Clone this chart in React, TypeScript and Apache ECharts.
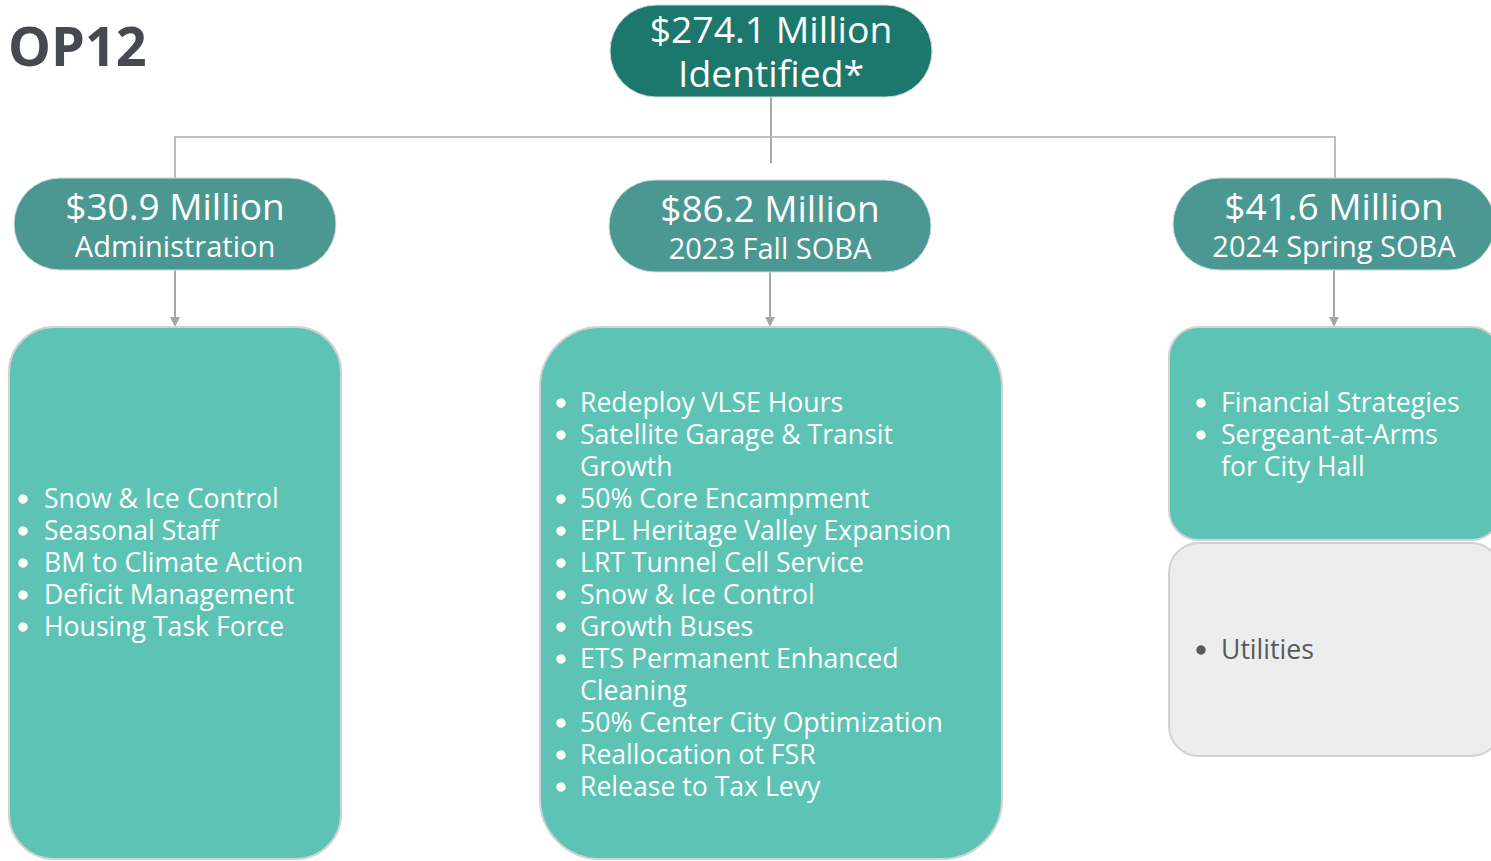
import React, { useEffect, useRef } from 'react';
import * as echarts from 'echarts';

// ---- Data ----
const title = 'OP12';
const totalAmount = '$274.1 Million';
const totalLabel = 'Identified*';
const branchAmounts = ['$30.9 Million', '$86.2 Million', '$41.6 Million'];
const branchLabels = ['Administration', '2023 Fall SOBA', '2024 Spring SOBA'];
const adminItems = [
  'Snow & Ice Control',
  'Seasonal Staff',
  'BM to Climate Action',
  'Deficit Management',
  'Housing Task Force',
];
const fallItems = [
  'Redeploy VLSE Hours',
  'Satellite Garage & Transit\nGrowth',
  '50% Core Encampment',
  'EPL Heritage Valley Expansion',
  'LRT Tunnel Cell Service',
  'Snow & Ice Control',
  'Growth Buses',
  'ETS Permanent Enhanced\nCleaning',
  '50% Center City Optimization',
  'Reallocation ot FSR',
  'Release to Tax Levy',
];
const springItems = ['Financial Strategies', 'Sergeant-at-Arms\nfor City Hall'];
const utilityItems = ['Utilities'];

// ---- Layout / style ----
const FONT = '"Open Sans", "Noto Sans", sans-serif';
const DARK = '#1c786c';
const MID = '#4a9891';
const LIGHT = '#5dc3b4';
const GREY_BOX = '#ededed';
const BORDER = '#d2d2d2';
const CONNECT = '#bfbfbf';
const ARROW = '#a6a6a6';

const branchNodes = [
  { x: 14, y: 178, w: 322, h: 92, cx: 175 },
  { x: 609, y: 180, w: 322, h: 92, cx: 770 },
  { x: 1173, y: 178, w: 322, h: 92, cx: 1334 },
];

function textEl(text: string, x: number, y: number, size: number, fill: string, align = 'center', weight = 'normal', lh?: number) {
  return {
    type: 'text',
    x,
    y,
    silent: true,
    style: {
      text,
      fill,
      font: `${weight} ${size}px ${FONT}`,
      lineHeight: lh ?? Math.round(size * 1.1),
      textAlign: align,
      textVerticalAlign: 'middle',
      align,
      verticalAlign: 'middle',
    },
  };
}

function listEls(items: string[], bulletX: number, textX: number, firstY: number, color: string) {
  const out: any[] = [];
  let y = firstY;
  items.forEach((item) => {
    const lines = item.split('\n');
    out.push({ type: 'circle', silent: true, shape: { cx: bulletX, cy: y + 1, r: 4.7 }, style: { fill: color } });
    lines.forEach((ln) => {
      out.push(textEl(ln, textX, y, 26.6, color, 'left', 'normal', 30));
      y += 32;
    });
  });
  return out;
}

function arrowEls(x: number, y1: number, y2: number) {
  return [
    { type: 'line', silent: true, shape: { x1: x, y1, x2: x, y2: y2 - 6 }, style: { stroke: ARROW, lineWidth: 2 } },
    { type: 'polygon', silent: true, shape: { points: [[x - 5, y2 - 10], [x + 5, y2 - 10], [x, y2]] }, style: { fill: ARROW } },
  ];
}

export default function App() {
  const ref = useRef<HTMLDivElement>(null);
  useEffect(() => {
    document.body.style.margin = '0';
    document.body.style.overflow = 'hidden';
    if (!ref.current) return;
    const chart = echarts.init(ref.current, null, { renderer: 'svg' });

    const elements: any[] = [];
    // connectors
    elements.push(
      { type: 'line', silent: true, shape: { x1: 771, y1: 97, x2: 771, y2: 163 }, style: { stroke: '#a8a8a8', lineWidth: 2 } },
      { type: 'line', silent: true, shape: { x1: 175, y1: 137, x2: 1335, y2: 137 }, style: { stroke: CONNECT, lineWidth: 2 } },
      { type: 'line', silent: true, shape: { x1: 175, y1: 136, x2: 175, y2: 180 }, style: { stroke: CONNECT, lineWidth: 2 } },
      { type: 'line', silent: true, shape: { x1: 1335, y1: 136, x2: 1335, y2: 180 }, style: { stroke: CONNECT, lineWidth: 2 } },
    );
    branchNodes.forEach((n) => {
      elements.push(...arrowEls(n.cx, n.y + n.h, 327));
    });

    // title
    elements.push(textEl(title, 8, 45, 54, '#464a50', 'left', 'bold', 56));

    // top node
    elements.push({
      type: 'rect', silent: true,
      shape: { x: 610, y: 5, width: 322, height: 92, r: 46 },
      style: { fill: DARK, stroke: '#cfdedb', lineWidth: 1 },
    });
    elements.push(textEl(totalAmount, 771, 28, 37.3, '#ffffff', 'center', 'normal', 40));
    elements.push(textEl(totalLabel, 771, 72, 37.3, '#ffffff', 'center', 'normal', 40));

    // branch nodes
    branchNodes.forEach((n, i) => {
      elements.push({
        type: 'rect', silent: true,
        shape: { x: n.x, y: n.y, width: n.w, height: n.h, r: 46 },
        style: { fill: MID, stroke: '#cfdedb', lineWidth: 1 },
      });
      elements.push(textEl(branchAmounts[i], n.cx, n.y + 27, 37, '#ffffff', 'center', 'normal', 38));
      elements.push(textEl(branchLabels[i], n.cx, n.y + 67, 29, '#ffffff', 'center', 'normal', 31));
    });

    // boxes
    elements.push(
      { type: 'rect', silent: true, shape: { x: 9, y: 327, width: 332, height: 532, r: 45 }, style: { fill: LIGHT, stroke: BORDER, lineWidth: 2 } },
      { type: 'rect', silent: true, shape: { x: 540, y: 327, width: 462, height: 532, r: 60 }, style: { fill: LIGHT, stroke: BORDER, lineWidth: 2 } },
      { type: 'rect', silent: true, shape: { x: 1169, y: 327, width: 332, height: 213, r: 30 }, style: { fill: LIGHT, stroke: BORDER, lineWidth: 2 } },
      { type: 'rect', silent: true, shape: { x: 1169, y: 543, width: 332, height: 213, r: 30 }, style: { fill: GREY_BOX, stroke: BORDER, lineWidth: 2 } },
    );

    elements.push(...listEls(adminItems, 23, 44, 498, '#ffffff'));
    elements.push(...listEls(fallItems, 561, 580, 402, '#ffffff'));
    elements.push(...listEls(springItems, 1201, 1221, 402, '#ffffff'));
    elements.push(...listEls(utilityItems, 1201, 1221, 649, '#595959'));

    chart.setOption({
      animation: false,
      backgroundColor: '#ffffff',
      graphic: { elements },
    });
    return () => chart.dispose();
  }, []);
  return <div ref={ref} style={{ width: 1491, height: 861 }} />;
}
